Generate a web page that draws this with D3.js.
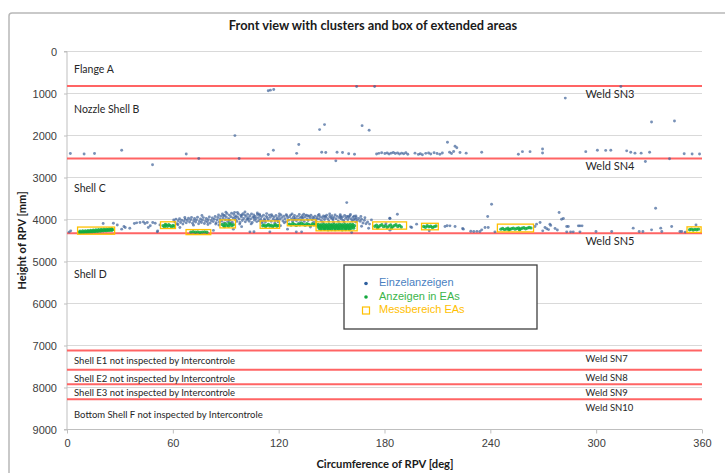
<!DOCTYPE html>
<html>
<head>
<meta charset="utf-8">
<script src="https://cdn.jsdelivr.net/npm/d3@7/dist/d3.min.js"></script>
<style>
  body { margin: 0; background: #fff; }
  svg { display: block; font-family: Lato, "Open Sans", sans-serif; }
  .tick text { font-size: 11px; fill: #404040; }
  .axis path, .axis line { stroke: #bfbfbf; }
  .legend-text { font-family: "Liberation Sans", Arial, sans-serif; font-size: 11px; }
</style>
</head>
<body>
<div id="chart"></div>
<script>
// --- Data (deg, mm) ---
const xTicks = [0, 60, 120, 180, 240, 300, 360];
const yTicks = [0, 1000, 2000, 3000, 4000, 5000, 6000, 7000, 8000, 9000];

const welds = [
  { name: 'Weld SN3', mm: 820, small: false },
  { name: 'Weld SN4', mm: 2550, small: false },
  { name: 'Weld SN5', mm: 4330, small: false },
  { name: 'Weld SN7', mm: 7120, small: true },
  { name: 'Weld SN8', mm: 7580, small: true },
  { name: 'Weld SN9', mm: 7920, small: true },
  { name: 'Weld SN10', mm: 8280, small: true }
];

const regions = [
  { name: 'Flange A', mm: 455, small: false },
  { name: 'Nozzle Shell B', mm: 1403, small: false },
  { name: 'Shell C', mm: 3282, small: false },
  { name: 'Shell D', mm: 5320, small: false },
  { name: 'Shell E1 not inspected by Intercontrole', mm: 7389, small: true },
  { name: 'Shell E2 not inspected by Intercontrole', mm: 7800, small: true },
  { name: 'Shell E3 not inspected by Intercontrole', mm: 8140, small: true },
  { name: 'Bottom Shell F not inspected by Intercontrole', mm: 8661, small: true }
];

// Einzelanzeigen (single indications)
const singles = [
  // flange / nozzle shell
  [114.1,936],[115.3,920],[117.2,904],[164.2,833],[174.4,833],[282.5,1110],[314,834],
  [143.2,1860],[146,1740],[167.3,1765],[171.3,1876],[331.4,1678],[344.4,1655],[95.2,2002],
  [131.4,2215],[215.7,2160],[220,2255],[221,2290],
  [1.9,2429],[9.7,2440],[15.6,2430],[31,2350],[67.6,2440],[114.1,2453],[117,2350],[130.2,2425],
  [144.4,2400],[146.7,2405],[153.1,2400],[156.2,2405],[159.7,2435],[163,2445],
  [175.5,2440],[176.8,2425],[178.4,2410],[180.2,2430],[181.5,2415],[182.6,2440],[183.8,2420],
  [185,2405],[186.1,2430],[187.4,2415],[188.5,2440],[189.7,2420],[190.9,2435],[192.1,2410],
  [193.2,2445],[197.3,2420],[199.2,2450],[200.3,2435],[201.5,2460],[203.4,2425],[205,2415],
  [206.2,2440],[208.1,2410],[209.8,2430],[211.4,2445],[212.8,2415],[216.9,2400],[218,2430],
  [219.2,2380],[222.8,2405],[226.3,2420],
  [235.1,2400],[255.9,2445],[258.2,2385],[262.5,2385],[269.6,2320],[269.6,2415],[294.1,2385],
  [300.7,2350],[305.4,2355],[308.3,2350],[317.3,2365],[319.6,2400],[322,2420],[325.5,2420],
  [330.3,2400],[349.9,2435],[354.4,2440],[358.6,2440],
  [48.5,2697],[74.7,2547],[97.6,2547],[152.4,2603],[327.9,2618],[341.6,2555],
  // shell C outliers
  [240.7,3637],[187.3,3874],[183,3970],[238.5,3929],[279,3835],[333.7,3732],[158.6,3598],
  [163.8,3915],[281.4,3976],
  // shell C, 0-60 deg
  [2.1,4270],[1.2,4300],[20.5,4095],[26.3,4090],[32.3,4166],[31,4230],[33,4190],[38.2,4095],
  [39.5,4080],[41.4,4071],[43.3,4057],[44.2,4095],[45.5,4071],[46.1,4190],[48.6,4071],[50,4088],
  [51.2,4294],[51.4,4270],[52.7,4128],[28.5,4130],[35.6,4210],[47.2,4150],
  // main band 60-172 deg
  [60.5,4010],[61.2,4060],[61.8,3990],[62.5,4100],[63.1,4030],[63.8,3980],[64.4,4070],[65.0,4015],
  [65.7,4110],[66.3,4045],[67.0,3995],[67.6,4080],[68.2,4025],[68.9,3970],[69.5,4060],
  [70.1,4005],[70.6,3950],[71.2,4090],[71.8,4030],[72.3,3975],[72.9,4060],[73.4,4010],[74.0,3945],
  [74.6,4100],[75.1,4040],[75.7,3985],[76.2,4070],[76.8,4015],[77.3,3955],[77.9,4095],[78.5,4035],
  [79.0,3975],[79.6,4060],[80.1,4005],[80.7,3940],[81.2,4085],[81.8,4025],[82.4,3965],[82.9,4050],
  [83.5,3995],[84.0,3930],[84.6,4075],
  [85.1,4010],[85.5,3950],[85.9,3890],[86.4,4060],[86.8,3985],[87.2,3920],[87.7,4035],[88.1,3870],
  [88.5,3965],[89.0,4080],[89.4,3905],[89.8,4005],[90.3,3940],[90.7,3860],[91.1,4050],[91.6,3980],
  [92.0,3895],[92.4,4020],[92.9,3935],[93.3,3850],[93.7,4065],[94.2,3965],[94.6,3880],[95.0,3830],
  [95.5,4000],[95.9,3915],[96.3,4045],[96.8,3950],[97.2,3870],[97.6,3990],[98.1,4070],[98.5,3905],
  [98.9,3940],[99.4,4025],[99.8,3860],[100.2,3975],[100.7,3895],[101.1,4055],[101.5,3930],
  [102.0,4000],[102.4,3875],[102.8,3960],[103.3,4040],[103.7,3910],[104.1,3985],[104.6,3865],
  [105.0,4070],[105.4,3945],[105.9,3890],[106.3,4015],[106.7,3925],[107.2,3975],[107.6,4050],
  [108.0,3880],[108.5,3955],[108.9,4030],[109.3,3905],[109.8,3990],
  [110.3,3935],[110.8,4040],[111.4,3900],[111.9,3980],[112.5,4060],[113.0,3925],[113.6,3965],
  [114.1,4010],[114.7,3895],[115.2,3950],[115.8,4045],[116.3,3915],[116.9,3990],[117.4,3940],
  [118.0,4025],[118.5,3905],[119.1,3970],[119.6,4055],[120.2,3930],[120.7,3995],[121.3,3890],
  [121.8,3955],[122.4,4035],[122.9,3920],[123.5,3980],[124.0,4050],[124.6,3910],[125.1,3960],
  [125.7,4020],[126.2,3935],[126.8,3895],[127.3,3985],[127.9,4040],[128.4,3945],[129.0,3905],
  [129.5,3970],[130.1,4030],[130.6,3925],[131.2,3990],[131.7,3880],[132.3,3950],[132.8,4015],
  [133.4,3910],[133.9,3965],[134.5,4045],[135.0,3935],[135.6,3895],[136.1,3985],[136.7,4025],
  [137.2,3920],[137.8,3960],[138.3,3900],[138.9,4005],[139.4,3945],
  [140.0,3975],[140.6,3920],[141.2,4040],[141.8,3955],[142.4,3905],[143.0,3990],[143.6,3935],
  [144.2,4030],[144.8,3960],[145.4,3915],[146.0,4000],[146.6,3945],[147.2,3900],[147.8,3980],
  [148.4,4035],[149.0,3930],[149.6,3965],[150.2,3910],[150.8,4010],[151.4,3950],[152.0,3890],
  [152.6,3985],[153.2,3925],[153.8,4040],[154.4,3960],[155.0,3915],[155.6,3995],[156.2,3940],
  [156.8,4020],[157.4,3905],[158.0,3970],[158.6,3930],[159.2,4005],[159.8,3955],[160.4,3910],
  [161.0,3985],[161.6,4035],[162.2,3945],[162.8,3920],[163.4,3990],[164.0,3960],[164.6,4025],
  [165.4,3975],[166.2,4040],[167.0,3995],[167.8,4085],[168.6,4020],[169.5,4100],[170.4,4060],
  [171.5,4110],
  // extra scatter in band
  [62.9,4125],[66.8,3950],[71.7,4135],[76.5,3905],[79.9,4120],[84.3,4110],[86.1,4130],[90.1,3825],
  [93.1,4100],[96.6,3835],[97.9,4110],[100.9,3820],[104.4,4105],[107.9,3845],[110.6,4085],
  [113.2,3860],[117.8,4090],[120.4,3865],[123.2,4080],[127.6,3870],[131.9,4075],[134.2,3875],
  [139.8,4070],[142.9,3880],[145.1,4065],[148.9,3870],[151.1,4070],[154.9,3885],[157.1,4060],
  [160.7,3880],[163.7,4060],[166.6,3930],[168.9,3960],[172.6,4010],[88.7,3905],[91.9,4010],
  [95.3,3945],[99.1,3890],[102.6,3990],[106.1,3960],[109.1,3875],[112.1,4015],[115.9,3885],
  [119.3,4005],[124.3,3885],[128.8,4000],[133.1,3955],[136.4,3910],[141.5,3990],[146.3,3925],
  [150.5,3975],[155.3,3950],[159.5,3925],[162.5,4005],
  [94.3,4230],[103.7,4294],[106,4290],[115,4294],[130,4294],[133,4294],[161.4,4308],[83,4260],
  [64,4190],[99,4170],[121,4150],[125,4230],[138,4180],[167,4160],[171,4210],
  // shell C, 172-360 deg
  [183.1,3976],[183.1,4254],[180.8,4100],[194.8,4175],[195.4,4190],[198.2,4111],[205.4,4270],
  [214.3,4166],[215.5,4150],[217.1,4151],[220,4166],[224.3,4213],[224.7,4230],[228.9,4280],
  [230.6,4285],[232.4,4282],[234.1,4285],[235.1,4246],[237,4190],[238.8,4190],[242.6,4294],
  [265.3,4166],[266.2,4111],[268.2,4071],[269.7,4270],[271,4190],[272,4220],[273,4240],
  [273.8,4111],[274.2,4140],[276.7,4213],[278,4250],[280.4,3993],[283.3,4166],[284.2,4166],
  [283.3,4294],[285.5,4294],[287,4294],[289.9,4151],[290.8,4151],[290.8,4294],[292,4151],
  [299.9,4285],[308.8,4285],[321,4206],[324.4,4285],[326.5,4285],[331.4,4246],[336.6,4206],
  [337.2,4285],[342.8,4166],[347.5,4285],[348.5,4285],[356.6,4128],[350.5,4300]
];

// Anzeigen in EAs (indications inside extended areas)
const inAreas = [
  // box 1
  [7.0,4305],[7.8,4310],[8.6,4300],[9.4,4305],[10.2,4295],[11.0,4300],[11.8,4290],[12.6,4295],
  [13.4,4285],[14.2,4290],[15.0,4280],[15.8,4285],[16.6,4275],[17.4,4280],[18.2,4270],[19.0,4275],
  [19.8,4265],[20.6,4270],[21.4,4260],[22.2,4265],[23.0,4255],[23.8,4260],[24.6,4250],[25.4,4255],
  [7.4,4280],[8.9,4275],[10.4,4270],[11.9,4265],[13.4,4258],[14.9,4252],[16.4,4248],[17.9,4242],
  [19.4,4238],[20.9,4232],[22.4,4228],[23.9,4225],[25.3,4222],[25.9,4240],
  // box 2
  [54.5,4150],[55.3,4170],[56.1,4135],[56.9,4160],[57.7,4125],[58.5,4150],[59.3,4175],[60.1,4140],
  [60.8,4160],[55.8,4115],
  // box 3
  [70.2,4300],[71.5,4290],[72.8,4305],[74.1,4295],[75.4,4310],[76.7,4300],[78,4295],[79.3,4305],
  // box 4
  [88,4120],[88.9,4150],[89.8,4100],[90.7,4135],[91.6,4160],[92.5,4110],[93.4,4145],[94.3,4125],
  [89.3,4170],[92,4090],
  // box 5
  [111,4150],[111.8,4130],[112.6,4165],[113.4,4140],[114.2,4120],[115,4155],[115.8,4135],
  [116.6,4170],[117.4,4145],[118.2,4125],[119,4160],[119.8,4140],
  // box 6
  [126,4110],[127,4130],[128,4095],[129,4120],[130,4140],[131,4105],[132,4125],[133,4090],
  [134,4115],[135,4135],[136,4100],[137,4120],[138,4140],[139,4105],[140,4125],[141,4110],
  // box 7
  [142.5,4118],[144,4125],[145.5,4115],[147,4122],[148.5,4112],[150,4126],[151.5,4117],[153,4121],
  [154.5,4113],[156,4124],[157.5,4116],[159,4123],[160.5,4114],[162,4120],
  [142,4152],[143.5,4146],[145,4155],[146.5,4148],[148,4153],[149.5,4144],[151,4156],[152.5,4149],
  [154,4151],[155.5,4145],[157,4154],[158.5,4147],[160,4152],[161.5,4146],[163,4150],
  [142.8,4182],[144.3,4176],[145.8,4185],[147.3,4178],[148.8,4183],[150.3,4175],[151.8,4186],
  [153.3,4179],[154.8,4181],[156.3,4174],[157.8,4184],[159.3,4177],[160.8,4182],[162.3,4176],
  [143,4212],[144.5,4206],[146,4215],[147.5,4208],[149,4213],[150.5,4205],[152,4216],[153.5,4209],
  [155,4211],[156.5,4204],[158,4214],[159.5,4207],[161,4212],[162.5,4206],
  [144,4240],[146,4236],[148,4245],[150,4238],[152,4242],[154,4235],[156,4244],[158,4237],
  [160,4241],
  // box 8
  [174.5,4160],[175.5,4135],[176.5,4180],[177.5,4150],[178.5,4125],[179.5,4170],[180.5,4145],
  [181.5,4190],[182.5,4155],[183.5,4130],[184.5,4175],[185.5,4150],[186.5,4125],[187.5,4165],
  [188.5,4140],[189.5,4180],[176,4200],[184,4205],
  // box 9
  [202.2,4165],[203.2,4185],[204.2,4150],[205.2,4175],[206.2,4160],[207.2,4190],[208.2,4170],
  [209.2,4155],
  // box 10
  [246,4230],[247,4215],[248,4240],[249,4225],[250,4210],[251,4235],[252,4220],[253,4205],
  [254,4230],[255,4215],[256,4200],[257,4225],[258,4210],[259,4195],[260,4220],[261,4205],
  [262,4190],[263,4200],[250.5,4250],[256.5,4245],
  // box 11
  [353,4245],[354,4230],[355,4250],[356,4235],[357,4245],[358,4230]
];

// Messbereich EAs: [deg0, deg1, mm0, mm1]
const areas = [
  [6, 27, 4180, 4350], [53, 61.5, 4055, 4215], [67.5, 81.5, 4240, 4360],
  [86.7, 95.5, 4010, 4200], [109.5, 120.5, 4035, 4210], [124.9, 141.2, 4010, 4150],
  [141.2, 164.5, 4057, 4270], [173.3, 192.5, 4057, 4230], [201, 210.5, 4090, 4245],
  [244, 264.5, 4110, 4295], [351.5, 359.5, 4175, 4308]
];

const legendItems = [
  { label: 'Einzelanzeigen', kind: 'dot', color: '#4a7fc1', mark: '#2e5f9e' },
  { label: 'Anzeigen in EAs', kind: 'dot', color: '#3cb54a', mark: '#13a83e' },
  { label: 'Messbereich EAs', kind: 'box', color: '#ffc000', mark: '#ffc000' }
];

// --- Layout ---
const W = 725, H = 473;
const PLOT = { left: 67, right: 702, top: 51.5, bottom: 429.5 };
const BLUE = '#3f6398', GREEN = '#12ab3f', ORANGE = '#ffc000', RED = '#ff6464';

const svg = d3.select('#chart').append('svg')
  .attr('width', W)
  .attr('height', H);

// outer chart frame
svg.append('rect')
  .attr('x', 9).attr('y', 13)
  .attr('width', 760).attr('height', 500)
  .attr('rx', 3)
  .attr('fill', '#fff')
  .attr('stroke', '#b8b8b8')
  .attr('stroke-width', 1.5);

const x = d3.scaleLinear().domain([0, 360]).range([PLOT.left, PLOT.right]);
const y = d3.scaleLinear().domain([0, 9000]).range([PLOT.top, PLOT.bottom]);

// --- Grid ---
svg.append('g')
  .selectAll('line')
  .data(yTicks)
  .join('line')
  .attr('x1', PLOT.left).attr('x2', PLOT.right)
  .attr('y1', d => y(d)).attr('y2', d => y(d))
  .attr('stroke', '#d9d9d9')
  .attr('stroke-width', 1);

// --- Axes ---
const yAxis = svg.append('g')
  .attr('class', 'axis')
  .attr('transform', `translate(${PLOT.left},0)`)
  .call(d3.axisLeft(y).tickValues(yTicks).tickSize(3).tickPadding(7).tickFormat(d3.format('d')));
yAxis.select('.domain').attr('d', `M-3,${PLOT.top}H0V${PLOT.bottom}H-3`);

const xAxis = svg.append('g')
  .attr('class', 'axis')
  .attr('transform', `translate(0,${PLOT.bottom})`)
  .call(d3.axisBottom(x).tickValues(xTicks).tickSize(4).tickPadding(6));
xAxis.select('.domain').attr('d', `M${PLOT.left},0H${PLOT.right}`);

// axis titles
svg.append('text')
  .attr('transform', `translate(23,${(PLOT.top + PLOT.bottom) / 2}) rotate(-90)`)
  .attr('text-anchor', 'middle')
  .attr('dominant-baseline', 'middle')
  .attr('font-size', 11.2)
  .attr('font-weight', 'bold')
  .attr('fill', '#1a1a1a')
  .text('Height of RPV [mm]');

svg.append('text')
  .attr('x', 385).attr('y', 465)
  .attr('text-anchor', 'middle')
  .attr('dominant-baseline', 'middle')
  .attr('font-size', 11.2)
  .attr('font-weight', 'bold')
  .attr('fill', '#1a1a1a')
  .text('Circumference of RPV [deg]');

// title
svg.append('text')
  .attr('x', 373).attr('y', 27)
  .attr('text-anchor', 'middle')
  .attr('dominant-baseline', 'middle')
  .attr('font-size', 12.8)
  .attr('font-weight', 'bold')
  .attr('fill', '#1a1a1a')
  .text('Front view with clusters and box of extended areas');

// --- Welds ---
svg.append('g')
  .selectAll('line')
  .data(welds)
  .join('line')
  .attr('x1', PLOT.left).attr('x2', PLOT.right)
  .attr('y1', d => y(d.mm)).attr('y2', d => y(d.mm))
  .attr('stroke', RED)
  .attr('stroke-width', 2);

svg.append('g')
  .selectAll('text')
  .data(welds)
  .join('text')
  .attr('x', x(294))
  .attr('y', d => y(d.mm) + 9)
  .attr('dominant-baseline', 'middle')
  .attr('font-size', d => d.small ? 9.5 : 11)
  .attr('fill', '#262626')
  .text(d => d.name);

// region labels
svg.append('g')
  .selectAll('text')
  .data(regions)
  .join('text')
  .attr('x', x(4))
  .attr('y', d => y(d.mm))
  .attr('dominant-baseline', 'middle')
  .attr('font-size', d => d.small ? 9.5 : 10.5)
  .attr('fill', '#262626')
  .text(d => d.name);

// --- Points ---
svg.append('g')
  .selectAll('circle')
  .data(singles)
  .join('circle')
  .attr('cx', d => x(d[0]))
  .attr('cy', d => y(d[1]))
  .attr('r', 1.45)
  .attr('fill', BLUE)
  .attr('fill-opacity', 0.7);

svg.append('g')
  .selectAll('circle')
  .data(inAreas)
  .join('circle')
  .attr('cx', d => x(d[0]))
  .attr('cy', d => y(d[1]))
  .attr('r', 1.7)
  .attr('fill', GREEN)
  .attr('fill-opacity', 0.85);

svg.append('g')
  .selectAll('rect')
  .data(areas)
  .join('rect')
  .attr('x', d => x(d[0]))
  .attr('y', d => y(d[2]))
  .attr('width', d => x(d[1]) - x(d[0]))
  .attr('height', d => y(d[3]) - y(d[2]))
  .attr('fill', 'none')
  .attr('stroke', ORANGE)
  .attr('stroke-width', 1.3);

// --- Legend ---
const legend = svg.append('g').attr('transform', 'translate(344,265)');
legend.append('rect')
  .attr('width', 193).attr('height', 64)
  .attr('fill', '#fff')
  .attr('stroke', '#404040')
  .attr('stroke-width', 1.3);

const item = legend.selectAll('g.item')
  .data(legendItems)
  .join('g')
  .attr('class', 'item')
  .attr('transform', (d, i) => `translate(0,${18.5 + i * 13.5})`);

item.filter(d => d.kind === 'dot').append('circle')
  .attr('cx', 22).attr('r', 1.8)
  .attr('fill', d => d.mark);
item.filter(d => d.kind === 'box').append('rect')
  .attr('x', 18.5).attr('y', -3.5)
  .attr('width', 7).attr('height', 7)
  .attr('fill', 'none')
  .attr('stroke', d => d.mark)
  .attr('stroke-width', 1.2);

item.append('text')
  .attr('class', 'legend-text')
  .attr('x', 35)
  .attr('dominant-baseline', 'middle')
  .attr('fill', d => d.color)
  .text(d => d.label);
</script>
</body>
</html>
